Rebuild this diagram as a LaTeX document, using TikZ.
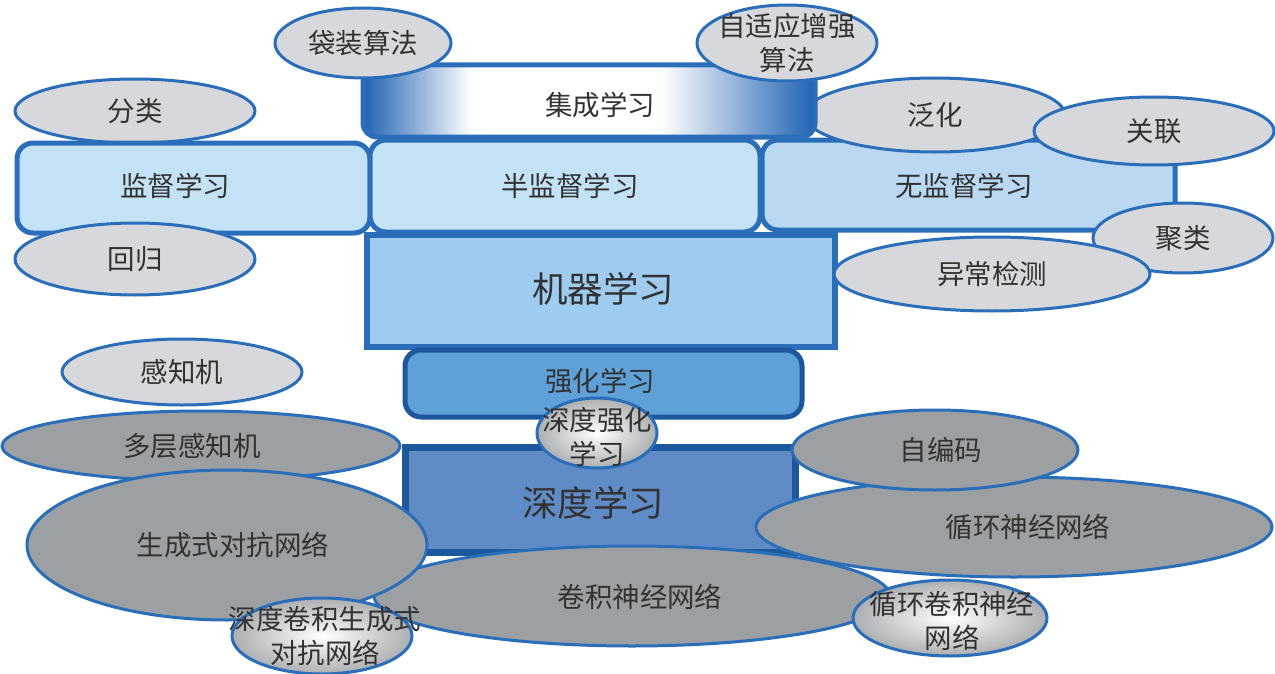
\documentclass[tikz,border=0pt]{standalone}
\usepackage{fontspec}
\setmainfont{Noto Sans CJK SC}
\usetikzlibrary{shapes.geometric}
\newdimen\pxu \pxu=0.75pt
\definecolor{bord}{RGB}{42,110,185}
\definecolor{lgray}{RGB}{214,216,219}
\definecolor{dgray}{RGB}{157,160,163}
\definecolor{txt}{RGB}{50,50,50}
\definecolor{supfill}{RGB}{196,226,246}
\definecolor{unsfill}{RGB}{186,216,242}
\definecolor{mlfill}{RGB}{157,204,240}
\definecolor{rlfill}{RGB}{94,160,216}
\definecolor{dlfill}{RGB}{95,139,198}
\definecolor{darkbord}{RGB}{28,88,155}
\definecolor{ensdark}{RGB}{32,98,178}
\pgfdeclarehorizontalshading{ensshade}{100bp}{color(0bp)=(ensdark); color(25bp)=(ensdark); color(37bp)=(white); color(58bp)=(white); color(75bp)=(ensdark); color(100bp)=(ensdark)}
\tikzset{
  base/.style={text=txt, font=\fontsize{20.6}{26}\selectfont, align=center, inner sep=0pt},
  bigtxt/.style={base, font=\fontsize{26.6}{32}\selectfont},
  ell/.style={base, ellipse, draw=bord, line width=3\pxu},
  lell/.style={ell, fill=lgray},
  dell/.style={ell, fill=dgray},
  gell/.style={ell, inner color=white, outer color=dgray!85},
  rbox/.style={rectangle, rounded corners=16\pxu, draw=bord, line width=5\pxu},
  sbox/.style={rectangle, draw=darkbord, line width=7\pxu},
}
\begin{document}
\begin{tikzpicture}[x=0.75pt,y=-0.75pt]
\useasboundingbox (0,0) rectangle (1275,674);
% supervised
\node[lell, minimum width=240\pxu, minimum height=64\pxu] (cls) at (135,111) {分类};
\node[rbox, fill=supfill, minimum width=353\pxu, minimum height=90\pxu] (sup) at (193.5,188) {};
\node[base] (supt) at (175,186) {监督学习};
\node[lell, minimum width=240\pxu, minimum height=72\pxu] (reg) at (135,259) {回归};
% unsupervised
\node[rbox, fill=unsfill, minimum width=413\pxu, minimum height=90\pxu] (uns) at (968.5,185) {};
\node[base] (unst) at (964,186) {无监督学习};
\node[lell, minimum width=260\pxu, minimum height=74\pxu] (gen) at (935,115) {泛化};
\node[lell, minimum width=240\pxu, minimum height=68\pxu] (assoc) at (1154,131) {关联};
\node[lell, minimum width=180\pxu, minimum height=70\pxu] (clu) at (1183,238) {聚类};
% semi
\node[rbox, fill=supfill, minimum width=390\pxu, minimum height=92\pxu] (semi) at (565,186) {};
\node[base] (semit) at (570,186) {半监督学习};
% ensemble
\node[rbox, rounded corners=14\pxu, shading=ensshade,
      minimum width=452\pxu, minimum height=72\pxu] (ens) at (589,101) {};
\node[base] (enst) at (600,105) {集成学习};
\node[lell, minimum width=176\pxu, minimum height=70\pxu] (bag) at (363,43) {袋装算法};
\node[lell, minimum width=180\pxu, minimum height=76\pxu] (ada) at (787,43) {};
\node[base] (adat) at (787,43) {自适应增强\\算法};
% machine learning
\node[rectangle, draw=bord, line width=6\pxu, fill=mlfill, minimum width=468\pxu, minimum height=112\pxu] (ml) at (601,291) {};
\node[bigtxt] (mlt) at (603,289) {机器学习};
\node[lell, minimum width=316\pxu, minimum height=74\pxu] (anom) at (992,274) {异常检测};
% perceptrons
\node[lell, minimum width=240\pxu, minimum height=66\pxu] (perc) at (182,372) {感知机};
\node[dell, minimum width=398\pxu, minimum height=70\pxu] (mlp) at (201,446) {};
\node[base] (mlpt) at (192,446) {多层感知机};
% reinforcement and deep learning
\node[rbox, draw=darkbord, fill=rlfill, minimum width=397\pxu, minimum height=67\pxu] (rl) at (603.5,383.5) {};
\node[base] (rlt) at (600,381) {强化学习};
\node[sbox, fill=dlfill, minimum width=390\pxu, minimum height=105\pxu] (dl) at (600,500) {};
\node[bigtxt] (dlt) at (593,503) {深度学习};
% deep nets
\node[dell, minimum width=516\pxu, minimum height=100\pxu] (cnn) at (632,596) {};
\node[base] (cnnt) at (640,597) {卷积神经网络};
\node[dell, minimum width=400\pxu, minimum height=150\pxu] (gan) at (227,545) {};
\node[base] (gant) at (233,545) {生成式对抗网络};
\node[dell, minimum width=516\pxu, minimum height=100\pxu] (rnn) at (1014,527) {};
\node[base] (rnnt) at (1028,527) {循环神经网络};
\node[dell, minimum width=286\pxu, minimum height=80\pxu] (ae) at (935,450) {};
\node[base] (aet) at (941,450) {自编码};
\node[gell, minimum width=180\pxu, minimum height=76\pxu] (dcgan) at (322,636) {};
\node[base] (dcgant) at (325,636) {深度卷积生成式\\对抗网络};
\node[gell, minimum width=194\pxu, minimum height=76\pxu] (rcnn) at (950,618) {};
\node[base] (rcnnt) at (952,621) {循环卷积神经\\网络};
\node[gell, minimum width=120\pxu, minimum height=70\pxu] (drl) at (597,433) {};
\node[base] (drlt) at (597,437) {深度强化\\学习};
\end{tikzpicture}
\end{document}
